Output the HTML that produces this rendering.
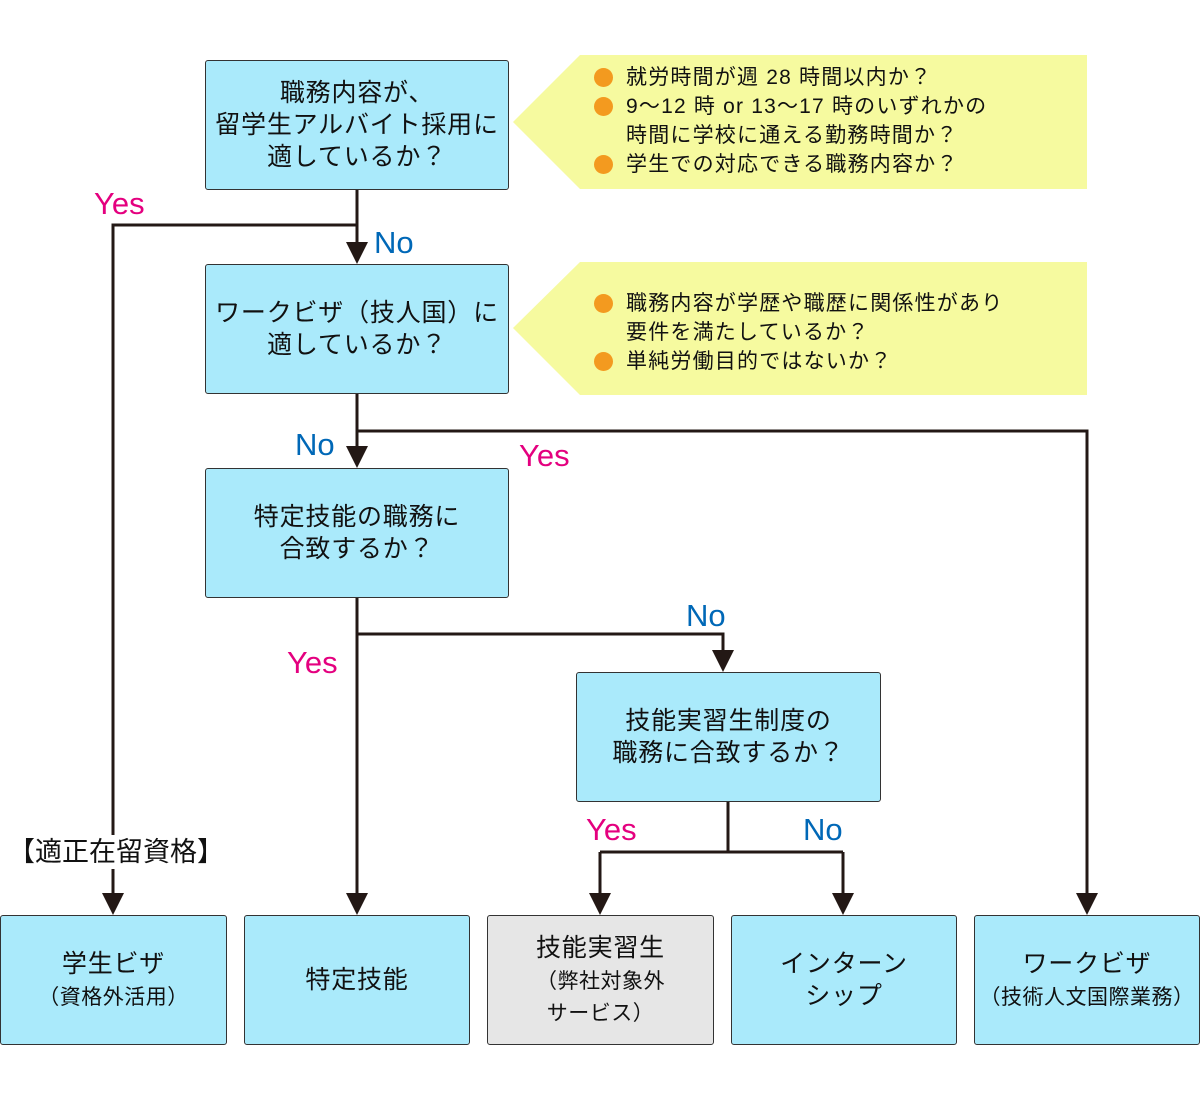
<!DOCTYPE html>
<html><head><meta charset="utf-8"><style>
body{margin:0;width:1200px;height:1100px;background:#fff;position:relative;font-family:"Liberation Sans","Noto Sans CJK JP",sans-serif;overflow:hidden}
.b{position:absolute;box-sizing:border-box;background:#aaeafb;border:1.5px solid #333;border-radius:3px;display:flex;align-items:center;justify-content:center;text-align:center;font-size:25px;line-height:32px;letter-spacing:0.8px;color:#111;white-space:nowrap}
.s{font-size:21px;line-height:28px;letter-spacing:0.5px}
.l{position:absolute;font-size:31px;line-height:1}
.y{color:#e4007f}.n{color:#0068b7}
.c{position:absolute;font-size:21px;line-height:29px;color:#111;letter-spacing:1.2px;white-space:nowrap}
.c div{position:relative;padding-left:32px}
.c span.d{position:absolute;left:0;top:5px;width:19px;height:19px;border-radius:50%;background:#f39a1f}
</style></head><body>
<svg width="1200" height="1100" style="position:absolute;left:0;top:0">
<polygon points="513,122 580,55 1087,55 1087,189 580,189" fill="#f6fa9f"/>
<polygon points="513,328 580,262 1087,262 1087,395 580,395" fill="#f6fa9f"/>
<g stroke="#231815" stroke-width="3" fill="none">
<path d="M357,189V245M357,225H113V895"/>
<path d="M357,393V449M357,431H1087V895"/>
<path d="M357,597V895M357,634H723V653"/>
<path d="M728,801V852M600,852H843M600,852V895M843,852V895"/>
</g>
<g fill="#231815">
<polygon points="346,242 368,242 357,264"/>
<polygon points="102,893 124,893 113,915"/>
<polygon points="346,446 368,446 357,468"/>
<polygon points="1076,893 1098,893 1087,915"/>
<polygon points="346,893 368,893 357,915"/>
<polygon points="712,650 734,650 723,672"/>
<polygon points="589,893 611,893 600,915"/>
<polygon points="832,893 854,893 843,915"/>
</g>
</svg>
<div class="b" style="left:205px;top:60px;width:304px;height:130px">職務内容が、<br>留学生アルバイト採用に<br>適しているか？</div>
<div class="b" style="left:205px;top:264px;width:304px;height:130px">ワークビザ（技人国）に<br>適しているか？</div>
<div class="b" style="left:205px;top:468px;width:304px;height:130px">特定技能の職務に<br>合致するか？</div>
<div class="b" style="left:576px;top:672px;width:305px;height:130px">技能実習生制度の<br>職務に合致するか？</div>
<div class="b" style="left:0;top:915px;width:227px;height:130px"><div>学生ビザ<br><span class="s">（資格外活用）</span></div></div>
<div class="b" style="left:244px;top:915px;width:226px;height:130px">特定技能</div>
<div class="b" style="left:487px;top:915px;width:227px;height:130px;background:#e6e6e6"><div>技能実習生<br><span class="s">（弊社対象外<br>サービス）</span></div></div>
<div class="b" style="left:731px;top:915px;width:226px;height:130px">インターン<br>シップ</div>
<div class="b" style="left:974px;top:915px;width:226px;height:130px"><div>ワークビザ<br><span class="s">（技術人文国際業務）</span></div></div>
<div class="c" style="left:594px;top:63px"><div><span class="d"></span>就労時間が週 28 時間以内か？</div><div><span class="d"></span>9～12 時 or 13～17 時のいずれかの<br>時間に学校に通える勤務時間か？</div><div><span class="d"></span>学生での対応できる職務内容か？</div></div>
<div class="c" style="left:594px;top:289px"><div><span class="d"></span>職務内容が学歴や職歴に関係性があり<br>要件を満たしているか？</div><div><span class="d"></span>単純労働目的ではないか？</div></div>
<div class="l y" style="left:94px;top:188px">Yes</div>
<div class="l n" style="left:374px;top:227px">No</div>
<div class="l n" style="left:295px;top:429px">No</div>
<div class="l y" style="left:519px;top:440px">Yes</div>
<div class="l y" style="left:287px;top:647px">Yes</div>
<div class="l n" style="left:686px;top:600px">No</div>
<div class="l y" style="left:586px;top:814px">Yes</div>
<div class="l n" style="left:803px;top:814px">No</div>
<div style="position:absolute;left:8px;top:835px;font-size:27px;line-height:34px;background:#fff;color:#111">【適正在留資格】</div>
</body></html>
